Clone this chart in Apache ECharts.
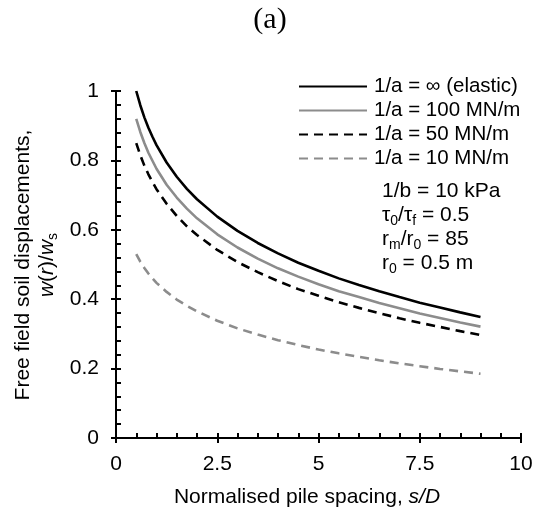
<!DOCTYPE html>
<html>
<head>
<meta charset="utf-8">
<script src="https://cdn.jsdelivr.net/npm/echarts@6/dist/echarts.min.js"></script>
<style>html,body{margin:0;padding:0;background:#fff;}#c{width:536px;height:518px;}</style>
</head>
<body>
<div id="c"></div>
<script>
const xValues = [0.5, 0.6, 0.7, 0.8, 0.9, 1, 1.25, 1.5, 1.75, 2, 2.5, 3, 3.5, 4, 4.5, 5, 5.5, 6, 6.5, 7, 7.5, 8, 8.5, 9];
const elastic = [1.0, 0.959, 0.924, 0.894, 0.868, 0.844, 0.794, 0.753, 0.718, 0.688, 0.638, 0.597, 0.562, 0.532, 0.505, 0.482, 0.460, 0.441, 0.423, 0.406, 0.390, 0.376, 0.362, 0.349];
const a100 = [0.92, 0.882, 0.850, 0.822, 0.799, 0.776, 0.730, 0.693, 0.661, 0.633, 0.587, 0.549, 0.517, 0.489, 0.465, 0.443, 0.423, 0.406, 0.389, 0.374, 0.359, 0.346, 0.333, 0.321];
const a50 = [0.85, 0.815, 0.785, 0.760, 0.738, 0.717, 0.675, 0.640, 0.610, 0.585, 0.542, 0.507, 0.478, 0.452, 0.429, 0.410, 0.391, 0.375, 0.360, 0.345, 0.332, 0.320, 0.308, 0.297];
const a10 = [0.53, 0.508, 0.490, 0.474, 0.460, 0.447, 0.421, 0.399, 0.381, 0.365, 0.338, 0.316, 0.298, 0.282, 0.268, 0.255, 0.244, 0.234, 0.224, 0.215, 0.207, 0.199, 0.192, 0.185];
const seriesNames = ['1/a = \u221E (elastic)', '1/a = 100 MN/m', '1/a = 50 MN/m', '1/a = 10 MN/m'];
const xTicks = [0, 2.5, 5, 7.5, 10];
const yTicks = [0, 0.2, 0.4, 0.6, 0.8, 1];

const FONT = 'Liberation Sans, Arial, sans-serif';
const GREY = '#8c8c8c';
function pairs(ys) { return xValues.map((x, i) => [x, ys[i]]); }
const seriesData = [elastic, a100, a50, a10];
const styles = [
  { color: '#000', type: 'solid' },
  { color: GREY, type: 'solid' },
  { color: '#000', type: [9, 6] },
  { color: GREY, type: [9, 6] }
];

const sub = { fontFamily: FONT, fontSize: 14, fill: '#000', verticalAlign: 'bottom', lineHeight: 26 };
const base = { fontFamily: FONT, fontSize: 21, fill: '#000', lineHeight: 26 };

const chart = echarts.init(document.getElementById('c'), null, { renderer: 'canvas' });
chart.setOption({
  animation: false,
  backgroundColor: '#fff',
  grid: { left: 116, right: 15, top: 91, bottom: 80, containLabel: false },
  legend: {
    orient: 'vertical', left: 298, top: 76, padding: 0,
    itemWidth: 68, itemHeight: 14, itemGap: 3,
    itemStyle: { opacity: 0 },
    textStyle: { fontFamily: FONT, fontSize: 20.5, color: '#000', lineHeight: 21, padding: [0, 0, 0, 2] },
    data: seriesNames
  },
  xAxis: [{
    type: 'value', min: xTicks[0], max: xTicks[xTicks.length - 1], interval: 2.5,
    axisLine: { show: true, onZero: false, lineStyle: { color: '#000', width: 2 } },
    axisTick: { show: true, inside: true, length: 5, lineStyle: { color: '#000', width: 2 } },
    minorTick: { show: true, splitNumber: 5, length: 5, lineStyle: { color: '#000', width: 2 } },
    axisLabel: { margin: 16, fontFamily: FONT, fontSize: 21, color: '#000' },
    splitLine: { show: false }
  }, {
    type: 'value', min: xTicks[0], max: xTicks[xTicks.length - 1], interval: 2.5, position: 'bottom',
    axisLine: { show: false, onZero: false },
    axisTick: { show: true, inside: false, length: 5, lineStyle: { color: '#000', width: 2 } },
    axisLabel: { show: false }, splitLine: { show: false }
  }],
  yAxis: [{
    type: 'value', min: yTicks[0], max: yTicks[yTicks.length - 1], interval: 0.2,
    axisLine: { show: true, onZero: false, lineStyle: { color: '#000', width: 2 } },
    axisTick: { show: true, inside: true, length: 5, lineStyle: { color: '#000', width: 2 } },
    minorTick: { show: true, splitNumber: 5, length: 5, lineStyle: { color: '#000', width: 2 } },
    axisLabel: { margin: 17, fontFamily: FONT, fontSize: 21, color: '#000', formatter: v => String(Math.round(v * 10) / 10) },
    splitLine: { show: false }
  }, {
    type: 'value', min: yTicks[0], max: yTicks[yTicks.length - 1], interval: 0.2, position: 'left',
    axisLine: { show: false, onZero: false },
    axisTick: { show: true, inside: false, length: 5, lineStyle: { color: '#000', width: 2 } },
    axisLabel: { show: false }, splitLine: { show: false }
  }],
  graphic: [
    { type: 'text', x: 270, y: 20,
      style: { text: '(a)', fontFamily: 'Liberation Serif, Times New Roman, serif', fontSize: 30, fill: '#000', align: 'center', verticalAlign: 'middle' } },
    { type: 'text', x: 307, y: 497,
      style: Object.assign({ text: 'Normalised pile spacing, {i|s/D}', align: 'center', verticalAlign: 'middle',
        rich: { i: { fontFamily: FONT, fontSize: 21, fontStyle: 'italic', lineHeight: 26 } } }, base) },
    { type: 'text', x: 23, y: 265, rotation: Math.PI / 2,
      style: Object.assign({ text: 'Free field soil displacements,', align: 'center', verticalAlign: 'middle' }, base) },
    { type: 'text', x: 47, y: 265, rotation: Math.PI / 2,
      style: Object.assign({ text: '{i|w}({i|r})/{i|w}{s|s}', align: 'center', verticalAlign: 'middle',
        rich: { i: { fontFamily: FONT, fontSize: 21, fontStyle: 'italic', lineHeight: 26 }, s: sub } }, base) },
    { type: 'text', x: 382, y: 191,
      style: Object.assign({ text: '1/b = 10 kPa', align: 'left', verticalAlign: 'middle' }, base) },
    { type: 'text', x: 382, y: 215,
      style: Object.assign({ text: '\u03C4{s|0}/\u03C4{s|f} = 0.5', align: 'left', verticalAlign: 'middle', rich: { s: sub } }, base) },
    { type: 'text', x: 382, y: 239,
      style: Object.assign({ text: 'r{s|m}/r{s|0} = 85', align: 'left', verticalAlign: 'middle', rich: { s: sub } }, base) },
    { type: 'text', x: 382, y: 263,
      style: Object.assign({ text: 'r{s|0} = 0.5 m', align: 'left', verticalAlign: 'middle', rich: { s: sub } }, base) }
  ],
  series: seriesData.map((d, i) => ({
    type: 'line', name: seriesNames[i], data: pairs(d),
    xAxisIndex: 0, yAxisIndex: 0,
    symbol: 'none', smooth: false,
    lineStyle: { color: styles[i].color, width: 2.6, type: styles[i].type },
    itemStyle: { color: styles[i].color }
  }))
});
</script>
</body>
</html>
